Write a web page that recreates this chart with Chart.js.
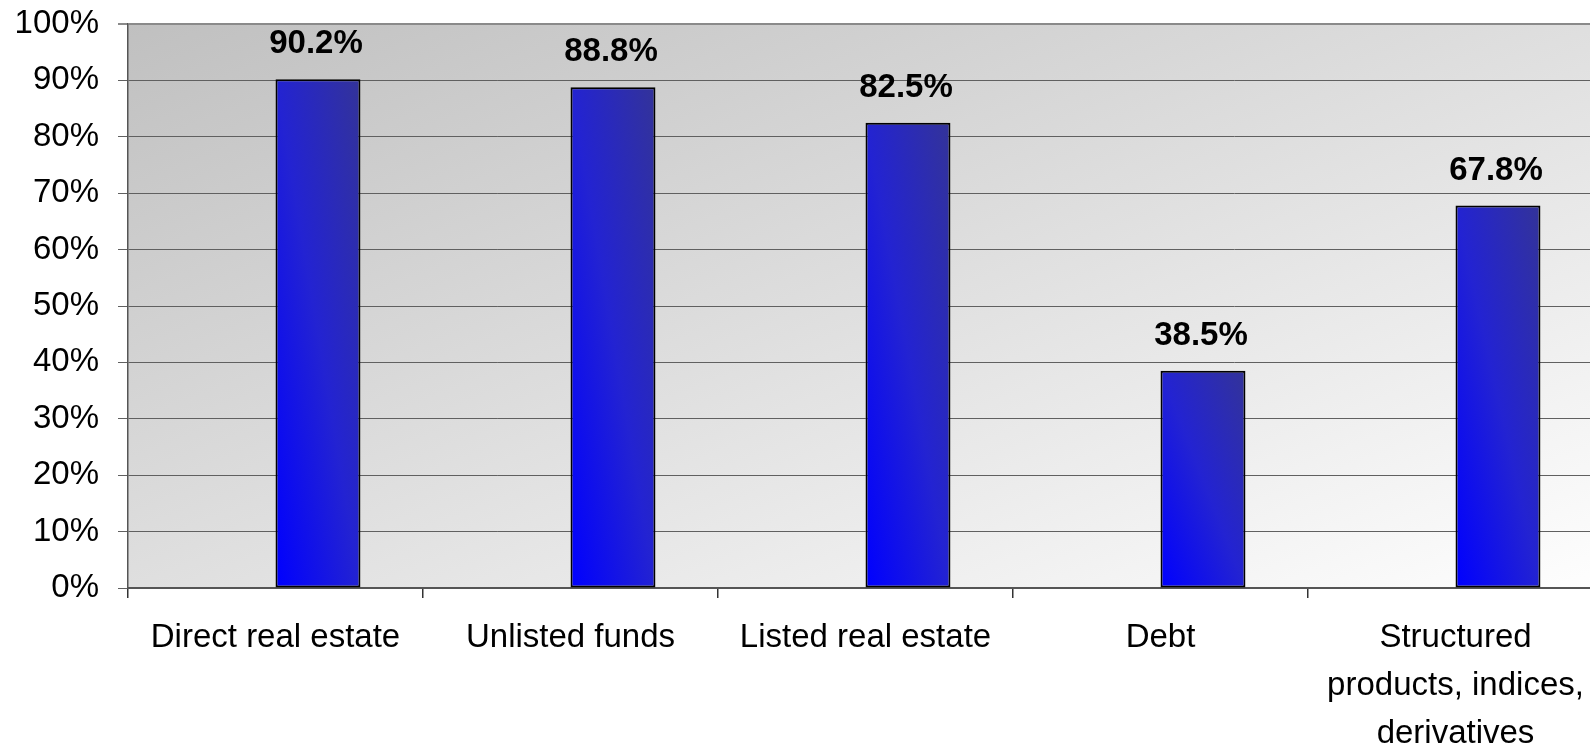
<!DOCTYPE html>
<html>
<head>
<meta charset="utf-8">
<script src="https://cdn.jsdelivr.net/npm/chart.js@4.4.1/dist/chart.umd.min.js"></script>
<style>
  html, body { margin: 0; padding: 0; background: #fff; overflow: hidden; }
  #wrap { width: 1610px; height: 747px; }
</style>
</head>
<body>
<div id="wrap"><canvas id="shareChart"></canvas></div>
<script>
const categories = [
  'Direct real estate',
  'Unlisted funds',
  'Listed real estate',
  'Debt',
  ['Structured', 'products, indices,', 'derivatives']
];
const shares = [90.2, 88.8, 82.5, 38.5, 67.8];
// empty first series keeps the bars in the right half of each category
const blankSeries = [null, null, null, null, null];
const yTicks = [0, 10, 20, 30, 40, 50, 60, 70, 80, 90, 100];

const FONT = "'Liberation Sans', Arial, sans-serif";
const GROUP_SHARE = 0.576;

// gradient along the box diagonal, from (x0, y0) towards the opposite corner;
// dirY = -1 runs bottom-left -> top-right, dirY = 1 runs top-left -> bottom-right
function diagGradient(c, x0, y0, w, h, dirY, stops) {
  const k = 2 / (1 / (w * w) + 1 / (h * h));
  const g = c.createLinearGradient(x0, y0, x0 + k / w, y0 + dirY * k / h);
  stops.forEach(s => g.addColorStop(s[0], s[1]));
  return g;
}

function barFill(ctx) {
  const chart = ctx.chart;
  const xs = chart.scales.x, ys = chart.scales.y;
  if (ctx.type !== 'data' || !xs || !ys || ctx.raw == null) return '#1818e0';
  const step = xs.width / categories.length;
  const w = step * GROUP_SHARE / 2;
  const left = xs.getPixelForValue(ctx.dataIndex);
  const top = ys.getPixelForValue(ctx.raw);
  const base = ys.getPixelForValue(0);
  const h = base - top;
  if (!(w > 1) || !(h > 1) || !isFinite(left) || !isFinite(top)) return '#1818e0';
  return diagGradient(chart.ctx, left, base, w, h, -1,
    [[0, '#0000ff'], [0.5, '#2323d2'], [1, '#333399']]);
}

const plotBackground = {
  id: 'plotBackground',
  beforeDraw(chart) {
    const a = chart.chartArea;
    const c = chart.ctx;
    c.save();
    c.fillStyle = '#ffffff';
    c.fillRect(0, 0, chart.width, chart.height);
    if (a && a.right - a.left > 1 && a.bottom - a.top > 1) {
      c.fillStyle = diagGradient(c, a.left, a.top, a.right - a.left, a.bottom - a.top, 1,
        [[0, '#c0c0c0'], [1, '#fefefe']]);
      c.fillRect(a.left, a.top, a.right - a.left, a.bottom - a.top);
    }
    c.restore();
  }
};

const valueLabels = {
  id: 'valueLabels',
  afterDatasetsDraw(chart) {
    const c = chart.ctx;
    const meta = chart.getDatasetMeta(1);
    c.save();
    c.font = 'bold 33px ' + FONT;
    c.fillStyle = '#000';
    c.textAlign = 'center';
    c.textBaseline = 'alphabetic';
    meta.data.forEach((bar, i) => {
      c.fillText(shares[i].toFixed(1) + '%', bar.x - 2, bar.y - 26);
    });
    c.restore();
  }
};

new Chart(document.getElementById('shareChart'), {
  type: 'bar',
  data: {
    labels: categories,
    datasets: [
      { label: '', data: blankSeries, backgroundColor: 'transparent' },
      {
        label: 'Share',
        data: shares,
        backgroundColor: barFill,
        borderColor: '#000',
        borderWidth: 2,
        borderSkipped: false
      }
    ]
  },
  options: {
    responsive: true,
    maintainAspectRatio: false,
    animation: false,
    categoryPercentage: GROUP_SHARE,
    barPercentage: 1,
    layout: { padding: { top: 24, right: 7, left: 0, bottom: 0 } },
    plugins: {
      legend: { display: false },
      tooltip: { enabled: false }
    },
    scales: {
      x: {
        offset: true,
        grid: { drawOnChartArea: false, offset: true, tickLength: 10, color: '#333', lineWidth: 1.5 },
        border: { color: '#555', width: 2 },
        ticks: {
          color: '#000',
          font: { family: FONT, size: 33, lineHeight: 1.45 },
          padding: 16,
          maxRotation: 0,
          autoSkip: false
        },
        afterFit(scale) { scale.height = 159; }
      },
      y: {
        min: 0,
        max: 100,
        afterBuildTicks(scale) { scale.ticks = yTicks.map(v => ({ value: v })); },
        grid: {
          tickLength: 10,
          color: ctx => (ctx.tick && ctx.tick.value === 100) ? '#8a8a8a' : '#606060',
          lineWidth: ctx => (ctx.tick && ctx.tick.value === 100) ? 2 : 1
        },
        border: { color: '#555', width: 1.5 },
        ticks: {
          color: '#000',
          font: { family: FONT, size: 33 },
          padding: 19,
          callback: v => v + '%'
        },
        afterFit(scale) {
          scale.width = 128;
          scale.paddingTop = 0;
          scale.paddingBottom = 0;
        }
      }
    }
  },
  plugins: [plotBackground, valueLabels]
});
</script>
</body>
</html>
